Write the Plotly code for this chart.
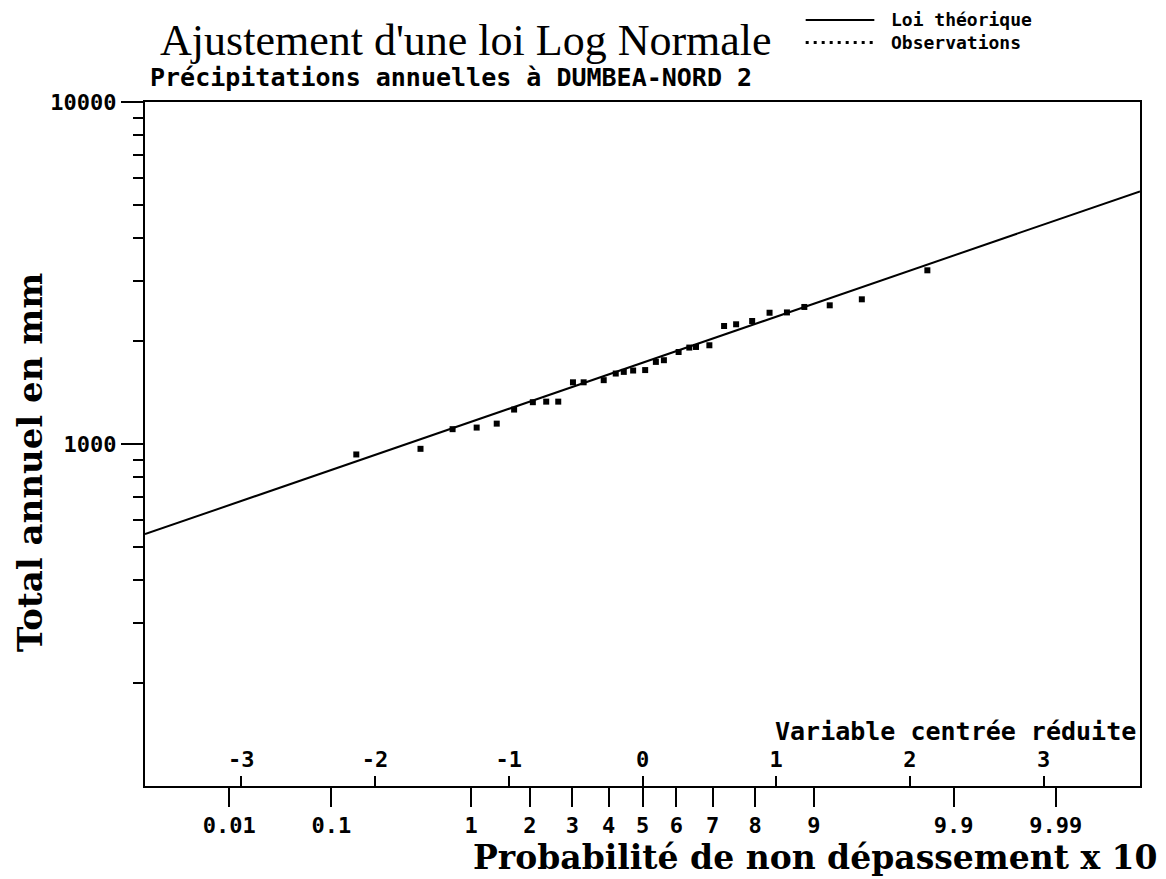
import plotly.graph_objects as go
from statistics import NormalDist

# ---------------- data ----------------
# theoretical law (straight line in reduced-variable / log space): end points
loi_u = [-3.72, 3.72]
loi_mm = [545, 5480]

# observations: reduced variable u and annual total (mm)
obs_u = [-2.14, -1.66, -1.42, -1.24, -1.09, -0.96, -0.82, -0.72, -0.63, -0.52,
         -0.44, -0.29, -0.20, -0.14, -0.07, 0.02, 0.10, 0.16, 0.27, 0.35,
         0.40, 0.50, 0.61, 0.70, 0.82, 0.95, 1.08, 1.21, 1.40, 1.64, 2.13]
obs_mm = [932, 968, 1105, 1117, 1147, 1261, 1325, 1330, 1330, 1515,
          1515, 1537, 1607, 1625, 1640, 1645, 1738, 1758, 1858, 1914,
          1922, 1944, 2213, 2239, 2289, 2420, 2425, 2516, 2544, 2649, 3220]

# top scale: reduced variable
u_ticks = [-3, -2, -1, 0, 1, 2, 3]
u_labels = ["-3", "-2", "-1", "0", "1", "2", "3"]

# bottom scale: probability of non exceedance x 10
p_labels = ["0.01", "0.1", "1", "2", "3", "4", "5", "6", "7", "8", "9", "9.9", "9.99"]

y_major = [100, 1000, 10000]
y_major_labels = ["100", "1000", "10000"]
y_minor = [200, 300, 400, 500, 600, 700, 800, 900,
           2000, 3000, 4000, 5000, 6000, 7000, 8000, 9000]

x_range = [-3.72, 3.72]

legend_names = ["Loi théorique", "Observations"]

# ---------------- derived ----------------
nd = NormalDist()
p_ticks = [nd.inv_cdf(float(s) / 10.0) for s in p_labels]

MONO = "DejaVu Sans Mono"
SERIF = "DejaVu Serif"
TICKFONT = dict(family=MONO, size=22, color="black", weight="bold")

fig = go.Figure()
fig.add_trace(go.Scatter(
    x=loi_u, y=loi_mm, mode="lines", name=legend_names[0],
    line=dict(color="black", width=2), showlegend=False))
fig.add_trace(go.Scatter(
    x=obs_u, y=obs_mm, mode="markers", name=legend_names[1], showlegend=False,
    marker=dict(symbol="square", size=6, color="black")))
fig.add_trace(go.Scatter(
    x=[None], y=[None], xaxis="x2", mode="markers", showlegend=False,
    hoverinfo="skip"))

fig.update_layout(
    width=1158, height=871,
    margin=dict(l=137, r=26, t=94, b=93),
    paper_bgcolor="white", plot_bgcolor="white",
    showlegend=False,
    title=dict(text="Ajustement d'une loi Log Normale",
               font=dict(family="Liberation Serif", size=44, color="black"),
               x=0.1313, xanchor="left", xref="container",
               y=0.9633, yanchor="middle", yref="container"),
    xaxis=dict(range=x_range, showline=True, linecolor="black", linewidth=2,
               mirror=True, ticks="inside", ticklen=10, tickwidth=2,
               tickcolor="black", tickvals=u_ticks, ticktext=u_labels,
               ticklabelposition="inside", ticklabelstandoff=6,
               tickfont=TICKFONT, showgrid=False, zeroline=False),
    xaxis2=dict(range=x_range, overlaying="x", anchor="y", side="bottom",
                showline=False, ticks="outside", ticklen=20, tickwidth=2,
                tickcolor="black", tickvals=p_ticks, ticktext=p_labels,
                tickfont=TICKFONT, showgrid=False, zeroline=False),
    yaxis=dict(type="log", range=[2, 4], showline=True, linecolor="black",
               linewidth=2, mirror=True, ticks="outside", ticklen=22,
               tickwidth=2, tickcolor="black", tickvals=y_major,
               ticktext=y_major_labels, ticklabelstandoff=0,
               tickfont=TICKFONT,
               minor=dict(ticks="outside", ticklen=10, tickwidth=2,
                          tickcolor="black", tickvals=y_minor, showgrid=False),
               showgrid=False, zeroline=False),
)

# legend (keys + labels above the plot, like the original)
fig.add_shape(type="line", xref="paper", yref="paper",
              x0=0.664, x1=0.733, y0=1.120, y1=1.120,
              line=dict(color="black", width=2))
fig.add_shape(type="line", xref="paper", yref="paper",
              x0=0.664, x1=0.733, y0=1.087, y1=1.087,
              line=dict(color="black", width=3, dash="3px,5px"))
fig.add_annotation(text="<br>".join(legend_names), xref="paper", yref="paper",
                   x=0.748, y=1.104, xanchor="left", yanchor="middle",
                   align="left", showarrow=False,
                   font=dict(family=MONO, size=18, color="black", weight="bold"))

fig.add_annotation(text="Précipitations annuelles à DUMBEA-NORD 2",
                   xref="paper", yref="paper", x=0.003, y=1.036,
                   xanchor="left", yanchor="middle", showarrow=False,
                   font=dict(family=MONO, size=25, color="black", weight="bold"))
fig.add_annotation(text="Variable centrée réduite",
                   xref="paper", yref="paper", x=0.998, y=0.079,
                   xanchor="right", yanchor="middle", showarrow=False,
                   font=dict(family=MONO, size=25, color="black", weight="bold"))
fig.add_annotation(text="Probabilité de non dépassement x 10",
                   xref="paper", yref="paper", x=1.020, y=-0.104,
                   xanchor="right", yanchor="middle", showarrow=False,
                   font=dict(family=SERIF, size=33, color="black", weight="bold"))
fig.add_annotation(text="Total annuel en mm",
                   xref="paper", yref="paper", x=-0.1156, y=0.4735,
                   xanchor="center", yanchor="middle", showarrow=False,
                   textangle=-90,
                   font=dict(family=SERIF, size=34, color="black", weight="bold"))

fig.write_html("out.html")
